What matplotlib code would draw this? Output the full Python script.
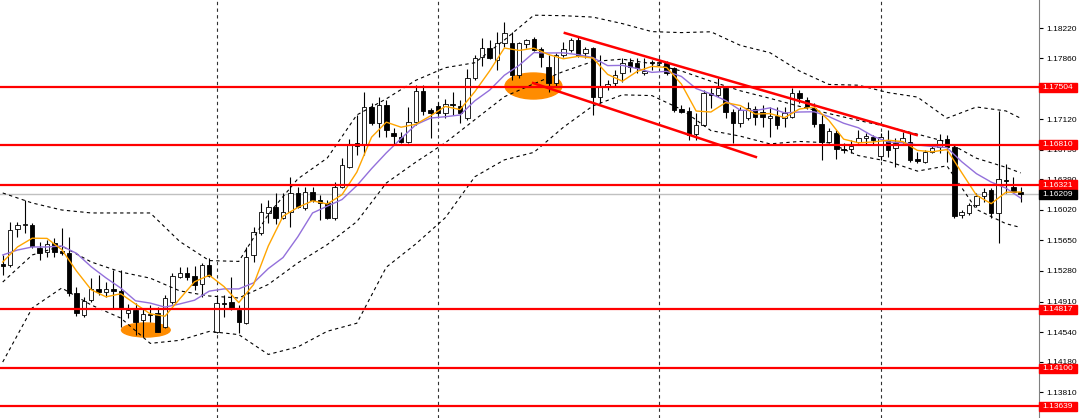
import numpy as np
import matplotlib.pyplot as plt
from matplotlib.patches import Ellipse, Rectangle

plt.rcParams['font.family'] = ['Liberation Sans', 'DejaVu Sans']

# H4 candles, oldest first
opens = [1.15365, 1.15353, 1.15789, 1.15837, 1.15837, 1.15558, 1.15510, 1.15619, 1.15522, 1.15498,
         1.15013, 1.14747, 1.14928, 1.15062, 1.15025, 1.15062, 1.15038, 1.14771, 1.14807, 1.14686,
         1.14759, 1.14771, 1.14601, 1.14904, 1.15207, 1.15256, 1.15219, 1.15122, 1.15353, 1.14541,
         1.14892, 1.14904, 1.14807, 1.14650, 1.15474, 1.15740, 1.15983, 1.16055, 1.15922, 1.15995,
         1.16225, 1.16043, 1.16237, 1.16140, 1.16104, 1.15922, 1.16297, 1.16540, 1.16831, 1.16806,
         1.17267, 1.17073, 1.17291, 1.16952, 1.16903, 1.16843, 1.17085, 1.17461, 1.17230, 1.17279,
         1.17194, 1.17303, 1.17279, 1.17133, 1.17618, 1.17872, 1.17981, 1.17836, 1.18042, 1.18042,
         1.17654, 1.18030, 1.18091, 1.17969, 1.17751, 1.17557, 1.17897, 1.17957, 1.18078, 1.17921,
         1.17981, 1.17388, 1.17521, 1.17557, 1.17679, 1.17812, 1.17800, 1.17679, 1.17812, 1.17800,
         1.17800, 1.17739, 1.17242, 1.17218, 1.16940, 1.17049, 1.17436, 1.17412, 1.17497, 1.17206,
         1.17073, 1.17133, 1.17242, 1.17206, 1.17133, 1.17158, 1.17133, 1.17146, 1.17436, 1.17351,
         1.17255, 1.17061, 1.16843, 1.16952, 1.16758, 1.16758, 1.16843, 1.16891, 1.16903, 1.16673,
         1.16867, 1.16770, 1.16843, 1.16843, 1.16637, 1.16600, 1.16722, 1.16782, 1.16879, 1.16782,
         1.15958, 1.15983, 1.16079, 1.16188, 1.16261, 1.15983, 1.16382, 1.16297, 1.16237]
highs = [1.15474, 1.15873, 1.15873, 1.16140, 1.15861, 1.15631, 1.15655, 1.15680, 1.15801, 1.15692,
         1.15086, 1.14965, 1.15195, 1.15231, 1.15146, 1.15292, 1.15292, 1.14880, 1.14892, 1.14819,
         1.14868, 1.14844, 1.14989, 1.15256, 1.15328, 1.15328, 1.15340, 1.15377, 1.15437, 1.14965,
         1.14989, 1.15207, 1.14868, 1.15571, 1.15813, 1.16104, 1.16140, 1.16225, 1.16225, 1.16419,
         1.16297, 1.16297, 1.16297, 1.16201, 1.16140, 1.16358, 1.16649, 1.16879, 1.17170, 1.17448,
         1.17315, 1.17388, 1.17351, 1.17012, 1.16964, 1.17267, 1.17533, 1.17533, 1.17255, 1.17327,
         1.17364, 1.17448, 1.17351, 1.17727, 1.17897, 1.18103, 1.18078, 1.18175, 1.18296, 1.18175,
         1.18054, 1.18091, 1.18115, 1.17994, 1.17897, 1.17921, 1.18054, 1.18103, 1.18115, 1.17994,
         1.17994, 1.17897, 1.17594, 1.17715, 1.17860, 1.17860, 1.17860, 1.17860, 1.17836, 1.17860,
         1.17824, 1.17751, 1.17291, 1.17267, 1.17194, 1.17473, 1.17497, 1.17618, 1.17509, 1.17242,
         1.17267, 1.17327, 1.17279, 1.17291, 1.17267, 1.17267, 1.17267, 1.17497, 1.17473, 1.17388,
         1.17315, 1.17170, 1.17012, 1.16988, 1.16831, 1.16867, 1.16988, 1.16952, 1.16927, 1.16952,
         1.16988, 1.16891, 1.16964, 1.16952, 1.16722, 1.16746, 1.16806, 1.16940, 1.16927, 1.16806,
         1.16019, 1.16104, 1.16225, 1.16285, 1.16285, 1.17218, 1.16576, 1.16419, 1.16297]
lows = [1.15231, 1.15328, 1.15692, 1.15740, 1.15558, 1.15413, 1.15449, 1.15449, 1.15474, 1.14977,
        1.14735, 1.14723, 1.14904, 1.14989, 1.14965, 1.14832, 1.14601, 1.14710, 1.14504, 1.14480,
        1.14662, 1.14541, 1.14589, 1.14880, 1.15195, 1.15171, 1.15050, 1.14965, 1.15207, 1.14529,
        1.14723, 1.14807, 1.14529, 1.14638, 1.15389, 1.15716, 1.15861, 1.15849, 1.15910, 1.15813,
        1.16043, 1.16019, 1.16116, 1.15898, 1.15910, 1.15898, 1.16285, 1.16528, 1.16685, 1.16685,
        1.17049, 1.16903, 1.16903, 1.16818, 1.16831, 1.16831, 1.17049, 1.17170, 1.16891, 1.17170,
        1.17133, 1.17170, 1.17073, 1.17109, 1.17594, 1.17763, 1.17848, 1.17715, 1.17994, 1.17594,
        1.17618, 1.17981, 1.17945, 1.17751, 1.17448, 1.17509, 1.17872, 1.17933, 1.17872, 1.17860,
        1.17170, 1.17315, 1.17473, 1.17509, 1.17570, 1.17691, 1.17679, 1.17654, 1.17715, 1.17776,
        1.17654, 1.17206, 1.17194, 1.16867, 1.16867, 1.17037, 1.17255, 1.17388, 1.17133, 1.16831,
        1.17024, 1.17109, 1.17049, 1.17024, 1.16903, 1.17000, 1.17024, 1.17133, 1.17315, 1.17242,
        1.17024, 1.16625, 1.16831, 1.16637, 1.16709, 1.16709, 1.16831, 1.16806, 1.16806, 1.16625,
        1.16661, 1.16540, 1.16831, 1.16600, 1.16588, 1.16588, 1.16709, 1.16709, 1.16600, 1.15922,
        1.15922, 1.15958, 1.16055, 1.16116, 1.15922, 1.15619, 1.16225, 1.16225, 1.16116]
closes = [1.15340, 1.15777, 1.15837, 1.15849, 1.15583, 1.15498, 1.15607, 1.15510, 1.15498, 1.15013,
          1.14771, 1.14916, 1.15062, 1.15025, 1.15062, 1.15038, 1.14832, 1.14807, 1.14662, 1.14759,
          1.14747, 1.14541, 1.14953, 1.15219, 1.15256, 1.15207, 1.15110, 1.15353, 1.15219, 1.14892,
          1.14880, 1.14832, 1.14662, 1.15449, 1.15752, 1.15995, 1.16055, 1.15922, 1.15995, 1.16225,
          1.16055, 1.16237, 1.16140, 1.16104, 1.15922, 1.16297, 1.16564, 1.16806, 1.16794, 1.17267,
          1.17073, 1.17291, 1.16988, 1.16915, 1.16843, 1.17085, 1.17461, 1.17218, 1.17194, 1.17194,
          1.17303, 1.17291, 1.17194, 1.17618, 1.17860, 1.17981, 1.17860, 1.18042, 1.18163, 1.17654,
          1.18042, 1.18078, 1.17957, 1.17872, 1.17557, 1.17897, 1.17969, 1.18078, 1.17897, 1.17969,
          1.17388, 1.17509, 1.17545, 1.17654, 1.17800, 1.17751, 1.17739, 1.17703, 1.17800, 1.17812,
          1.17679, 1.17230, 1.17206, 1.16927, 1.17049, 1.17436, 1.17412, 1.17497, 1.17206, 1.17073,
          1.17230, 1.17255, 1.17146, 1.17146, 1.17158, 1.17049, 1.17194, 1.17436, 1.17376, 1.17267,
          1.17061, 1.16843, 1.16976, 1.16758, 1.16746, 1.16794, 1.16891, 1.16915, 1.16867, 1.16903,
          1.16746, 1.16831, 1.16891, 1.16625, 1.16612, 1.16722, 1.16770, 1.16867, 1.16782, 1.15946,
          1.15995, 1.16079, 1.16188, 1.16237, 1.15983, 1.16394, 1.16370, 1.16237, 1.16209]

# moving averages (orange = fast, purple = slow), sampled every 2 bars
ma_idx = list(range(0, 139, 2))
ma_fast = [1.15389, 1.15571, 1.15677, 1.15675, 1.15539, 1.15280, 1.15052, 1.14967, 1.15004, 1.14880,
           1.14761, 1.14732, 1.14943, 1.15149, 1.15229, 1.15091, 1.14897, 1.15115, 1.15583, 1.15944,
           1.16050, 1.16130, 1.16092, 1.16205, 1.16477, 1.16901, 1.17083, 1.17022, 1.17058, 1.17160,
           1.17274, 1.17235, 1.17453, 1.17703, 1.17981, 1.17952, 1.17979, 1.17902, 1.17851, 1.17880,
           1.17860, 1.17662, 1.17579, 1.17698, 1.17759, 1.17746, 1.17545, 1.17218, 1.17206, 1.17320,
           1.17284, 1.17182, 1.17187, 1.17138, 1.17242, 1.17267, 1.17104, 1.16877, 1.16833, 1.16843,
           1.16864, 1.16848, 1.16741, 1.16724, 1.16751, 1.16472, 1.16198, 1.16096, 1.16234, 1.16237]
ma_slow = [1.15474, 1.15534, 1.15571, 1.15571, 1.15583, 1.15494, 1.15331, 1.15196, 1.15073, 1.14919,
           1.14891, 1.14842, 1.14881, 1.14926, 1.15036, 1.15063, 1.15063, 1.15136, 1.15309, 1.15443,
           1.15694, 1.15983, 1.16065, 1.16146, 1.16314, 1.16520, 1.16711, 1.16884, 1.17052, 1.17133,
           1.17149, 1.17170, 1.17342, 1.17471, 1.17651, 1.17771, 1.17926, 1.17921, 1.17923, 1.17900,
           1.17866, 1.17768, 1.17771, 1.17733, 1.17686, 1.17699, 1.17637, 1.17490, 1.17425, 1.17345,
           1.17227, 1.17223, 1.17256, 1.17195, 1.17206, 1.17209, 1.17150, 1.17070, 1.17015, 1.16912,
           1.16844, 1.16834, 1.16807, 1.16788, 1.16775, 1.16604, 1.16459, 1.16357, 1.16284, 1.16163]

# Bollinger bands, sampled every 4 bars
bb_idx = list(range(0, 137, 4)) + [138]
bb_upper = [1.16225, 1.16104, 1.16019, 1.15983, 1.15983, 1.15983, 1.15637, 1.15406, 1.15396, 1.15966,
            1.16396, 1.16649, 1.17170, 1.17366, 1.17590, 1.17743, 1.17803, 1.18078, 1.18379, 1.18373,
            1.18356, 1.18277, 1.18180, 1.18168, 1.18178, 1.18013, 1.17925, 1.17703, 1.17540, 1.17531,
            1.17442, 1.17387, 1.17131, 1.17267, 1.17219, 1.17130]
bb_mid = [1.15146, 1.15474, 1.15583, 1.15389, 1.15268, 1.15193, 1.15039, 1.14977, 1.14953, 1.15117,
          1.15378, 1.15600, 1.15878, 1.16346, 1.16599, 1.16834, 1.17113, 1.17391, 1.17548, 1.17697,
          1.17818, 1.17846, 1.17792, 1.17703, 1.17579, 1.17463, 1.17372, 1.17275, 1.17187, 1.17104,
          1.17026, 1.16938, 1.16843, 1.16646, 1.16536, 1.16468]
bb_lower = [1.14177, 1.14832, 1.15074, 1.14868, 1.14710, 1.14403, 1.14440, 1.14548, 1.14509, 1.14269,
            1.14360, 1.14550, 1.14647, 1.15326, 1.15608, 1.15926, 1.16422, 1.16626, 1.16717, 1.17021,
            1.17280, 1.17414, 1.17405, 1.17238, 1.16981, 1.16913, 1.16820, 1.16849, 1.16833, 1.16678,
            1.16609, 1.16490, 1.16554, 1.16026, 1.15853, 1.15807]

levels = [1.17504, 1.16810, 1.16321, 1.14817, 1.14100, 1.13639]
last_price = 1.16209
yticks = [1.18220, 1.17860, 1.17120, 1.16750, 1.16390, 1.16020, 1.15650,
          1.15280, 1.14910, 1.14540, 1.14180, 1.13810]
week_starts = [29, 59, 89, 119]

# drawn channel (bar index, price)
chan_top_x = [76.2, 123.9]
chan_top_y = [1.18163, 1.16927]
chan_bot_x = [71.9, 102.1]
chan_bot_y = [1.17557, 1.16661]
# highlighted spots: (bar, price, width in bars, height in price)
spots = [(19.4, 1.14565, 6.6, 0.0017), (71.95, 1.17521, 7.7, 0.00315)]

o = np.array(opens)
c = np.array(closes)
idx = np.arange(len(c))

fig = plt.figure(figsize=(10.8, 4.18), dpi=100)
ax = fig.add_axes([0, 0, 1039 / 1080, 1])
ax.set_xlim(-0.37, 140.48)
ax.set_ylim(1.13499, 1.18563)

for w in week_starts:
    ax.axvline(w, color='#303030', lw=0.8, ls=(0, (3, 3)), zorder=1)

ax.axhline(last_price, color='#c0c0c0', lw=1, zorder=1.5)

for x, y, wd, ht in spots:
    ax.add_patch(Ellipse((x, y), wd, ht, color='#ff8c00', zorder=2))

# candles
ax.vlines(idx, lows, highs, color='black', lw=0.8, zorder=3)
ax.bar(idx, np.abs(c - o), bottom=np.minimum(o, c), width=0.6,
       color=np.where(c >= o, 'white', 'black'), edgecolor='black',
       linewidth=0.6, zorder=4)

# indicators
for band in (bb_upper, bb_mid, bb_lower):
    ax.plot(bb_idx, band, color='black', lw=0.8, ls=(0, (3, 3)), zorder=5)
ax.plot(ma_idx, ma_slow, color='#9370db', lw=1, zorder=5)
ax.plot(ma_idx, ma_fast, color='#ffa500', lw=1, zorder=5)

for lv in levels:
    ax.axhline(lv, color='#ff0000', lw=1.6, zorder=6)
ax.plot(chan_top_x, chan_top_y, color='#ff0000', lw=1.8, zorder=6)
ax.plot(chan_bot_x, chan_bot_y, color='#ff0000', lw=1.8, zorder=6)

# right price scale
for s in ['top', 'left', 'bottom']:
    ax.spines[s].set_visible(False)
ax.spines['right'].set_color('#808080')
ax.set_xticks([])
ax.yaxis.tick_right()
ax.set_yticks(yticks)
ax.set_yticklabels([f'{t:.5f}' for t in yticks])
ax.tick_params(axis='y', direction='out', length=3, width=0.8, pad=2,
               labelsize=6, colors='black')
tr = ax.get_yaxis_transform()
ax.text(1.0 + 6 / 1039, 1.18580, '1.18580', transform=tr, fontsize=6,
        va='center', ha='left', clip_on=False)

half = 4.6 * (1.18563 - 1.13499) / 418
box_w = 38 / 1039
for lv, fc in [(v, '#ff0000') for v in levels] + [(last_price, 'black')]:
    ax.add_patch(Rectangle((1.0, lv - half), box_w, 2 * half, transform=tr,
                           color=fc, clip_on=False, zorder=10))
    ax.text(1.0 + 3 / 1039, lv, f'{lv:.5f}', transform=tr, color='white',
            fontsize=6, va='center', ha='left', clip_on=False, zorder=11)

fig.savefig('out.png', dpi=100)
